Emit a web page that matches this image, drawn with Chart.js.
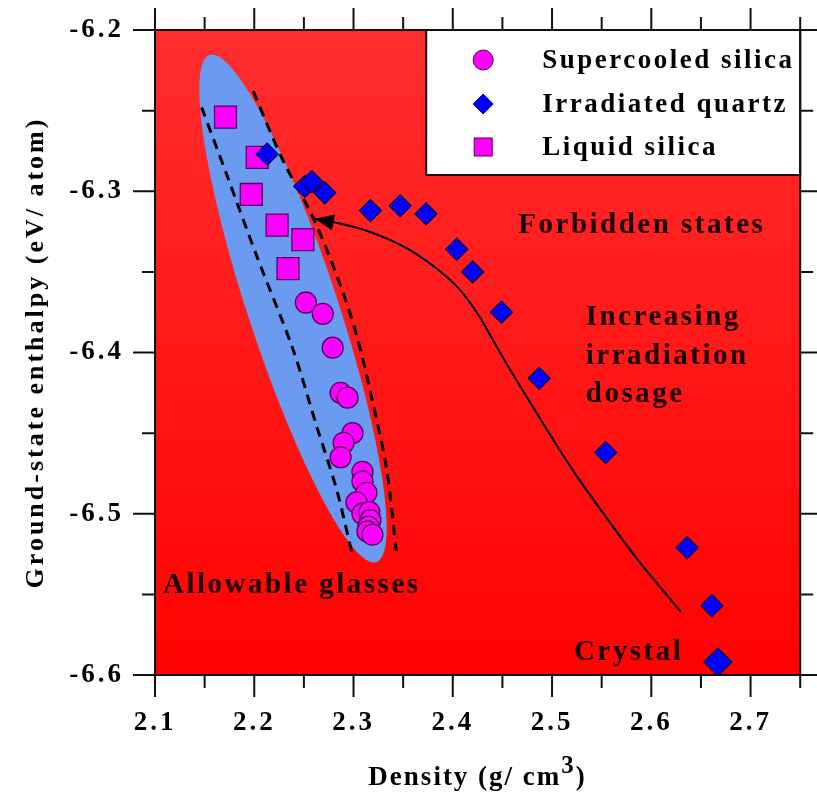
<!DOCTYPE html>
<html>
<head>
<meta charset="utf-8">
<script src="https://cdn.jsdelivr.net/npm/chart.js@4.4.0/dist/chart.umd.min.js"></script>
<style>
  html, body { margin: 0; padding: 0; background: #fff; }
  #wrap { width: 817px; height: 797px; }
</style>
</head>
<body>
<div id="wrap"><canvas id="silica" width="817" height="797"></canvas></div>
<script>
// ── data (density g/cm3, enthalpy eV/atom) ──────────────────────────────────
var supercooled = [
  [2.252, -6.369], [2.269, -6.376], [2.279, -6.397], [2.287, -6.425], [2.294, -6.428],
  [2.299, -6.450], [2.290, -6.456], [2.287, -6.465], [2.309, -6.474], [2.309, -6.480],
  [2.313, -6.487], [2.303, -6.493], [2.309, -6.500], [2.316, -6.499], [2.317, -6.504],
  [2.315, -6.508], [2.314, -6.511], [2.319, -6.513]
];
var irradiated = [
  [2.213, -6.277], [2.251, -6.297], [2.258, -6.294], [2.271, -6.301], [2.317, -6.312],
  [2.347, -6.309], [2.373, -6.314], [2.404, -6.336], [2.420, -6.350], [2.449, -6.375],
  [2.487, -6.416], [2.554, -6.462], [2.636, -6.521], [2.661, -6.557], [2.667, -6.592]
];
var liquid = [
  [2.171, -6.254], [2.203, -6.279], [2.197, -6.302], [2.223, -6.321], [2.249, -6.330], [2.234, -6.348]
];
// dashed bounds of the allowable-glass band
var dashLeft = [
  [2.147, -6.248], [2.173, -6.291], [2.203, -6.341], [2.239, -6.398], [2.263, -6.446],
  [2.283, -6.485], [2.299, -6.526]
];
var dashRight = [
  [2.199, -6.238], [2.229, -6.281], [2.259, -6.316], [2.286, -6.357], [2.303, -6.389],
  [2.319, -6.430], [2.333, -6.471], [2.343, -6.523]
];
// arrow (tip first)
var dosageArrow = [
  [2.261, -6.317], [2.286, -6.320], [2.311, -6.324], [2.336, -6.330], [2.361, -6.338],
  [2.386, -6.349], [2.407, -6.361], [2.425, -6.376], [2.442, -6.394], [2.459, -6.412],
  [2.477, -6.430], [2.497, -6.450], [2.522, -6.474], [2.552, -6.500], [2.587, -6.529],
  [2.630, -6.561]
];
// ends of the long axis of the blue glass ellipse
var glassEllipse = [[2.155, -6.2155], [2.323, -6.530]];

var xRange = [2.1, 2.75];
var yRange = [-6.6, -6.2];

var notes = [
  { text: "Forbidden states",  x: 2.466, y: -6.326 },
  { text: "Increasing",        x: 2.534, y: -6.383 },
  { text: "irradiation",       x: 2.534, y: -6.407 },
  { text: "dosage",            x: 2.534, y: -6.431 },
  { text: "Allowable glasses", x: 2.108, y: -6.549 },
  { text: "Crystal",           x: 2.522, y: -6.591 }
];

var legendRows = ["Supercooled silica", "Irradiated quartz", "Liquid silica"];

// ── styles ──────────────────────────────────────────────────────────────────
var FONT = '"Liberation Serif", "Times New Roman", serif';
var MAGENTA = "#ff00ff", MAGENTA_EDGE = "#55005a";
var BLUE = "#0000ff", BLUE_EDGE = "#000040";

function toXY(arr) { return arr.map(function(p) { return { x: p[0], y: p[1] }; }); }
function isMajor(v) { return Math.abs(v * 10 - Math.round(v * 10)) < 1e-6; }
function noPad(s) { s.paddingTop = 0; s.paddingBottom = 0; s.paddingLeft = 0; s.paddingRight = 0; }

// ── plugins ─────────────────────────────────────────────────────────────────
var backdrop = {
  id: "backdrop",
  beforeDraw: function(chart) {
    var ctx = chart.ctx, a = chart.chartArea;
    ctx.letterSpacing = "3px"; // tick labels + axis title
    ctx.save();
    var g = ctx.createLinearGradient(0, a.top, 0, a.bottom);
    g.addColorStop(0, "#ff2e2e");
    g.addColorStop(1, "#ff0202");
    ctx.fillStyle = g;
    ctx.fillRect(a.left, a.top, a.right - a.left, a.bottom - a.top);

    var sx = chart.scales.x, sy = chart.scales.y;
    var x1 = sx.getPixelForValue(glassEllipse[0][0]), y1 = sy.getPixelForValue(glassEllipse[0][1]);
    var x2 = sx.getPixelForValue(glassEllipse[1][0]), y2 = sy.getPixelForValue(glassEllipse[1][1]);
    ctx.beginPath();
    ctx.ellipse((x1 + x2) / 2, (y1 + y2) / 2, Math.hypot(x2 - x1, y2 - y1) / 2, 45,
                Math.atan2(y2 - y1, x2 - x1), 0, Math.PI * 2);
    ctx.fillStyle = "#6b9bf0";
    ctx.fill();
    ctx.restore();
  },
  afterDatasetsDraw: function(chart) {
    var ctx = chart.ctx, a = chart.chartArea;
    var sx = chart.scales.x, sy = chart.scales.y;
    ctx.save();

    // arrow head at the first point of the arrow curve
    var meta = chart.getDatasetMeta(3);
    var p0 = meta.data[0], p1 = meta.data[1];
    var ang = Math.atan2(p0.y - p1.y, p0.x - p1.x);
    ctx.fillStyle = "#000";
    ctx.beginPath();
    ctx.moveTo(p0.x, p0.y);
    ctx.lineTo(p0.x - 19 * Math.cos(ang) + 8 * Math.sin(ang), p0.y - 19 * Math.sin(ang) - 8 * Math.cos(ang));
    ctx.lineTo(p0.x - 19 * Math.cos(ang) - 8 * Math.sin(ang), p0.y - 19 * Math.sin(ang) + 8 * Math.cos(ang));
    ctx.closePath();
    ctx.fill();

    // region notes
    ctx.font = "bold 29px " + FONT;
    ctx.letterSpacing = "2.5px";
    ctx.fillStyle = "#1a0000";
    ctx.textAlign = "left";
    ctx.textBaseline = "alphabetic";
    notes.forEach(function(n) {
      ctx.fillText(n.text, sx.getPixelForValue(n.x), sy.getPixelForValue(n.y));
    });

    // legend box
    var L = a.right - 374, T = a.top, W = 374, H = 145;
    ctx.fillStyle = "#fff";
    ctx.fillRect(L, T, W, H);
    ctx.strokeStyle = "#111";
    ctx.lineWidth = 2;
    ctx.strokeRect(L, T, W, H);
    var rows = [T + 30, T + 74, T + 117], mx = L + 57;
    ctx.lineWidth = 1;
    ctx.beginPath(); ctx.arc(mx, rows[0], 10, 0, Math.PI * 2);
    ctx.fillStyle = MAGENTA; ctx.fill(); ctx.strokeStyle = MAGENTA_EDGE; ctx.stroke();
    ctx.beginPath();
    ctx.moveTo(mx - 10, rows[1]); ctx.lineTo(mx, rows[1] - 10); ctx.lineTo(mx + 10, rows[1]); ctx.lineTo(mx, rows[1] + 10);
    ctx.closePath(); ctx.fillStyle = BLUE; ctx.fill(); ctx.strokeStyle = BLUE_EDGE; ctx.stroke();
    ctx.fillStyle = MAGENTA; ctx.fillRect(mx - 9, rows[2] - 9, 18, 18);
    ctx.strokeStyle = MAGENTA_EDGE; ctx.strokeRect(mx - 9, rows[2] - 9, 18, 18);

    ctx.font = "bold 27px " + FONT;
    ctx.fillStyle = "#000";
    ctx.textBaseline = "middle";
    legendRows.forEach(function(t, i) { ctx.fillText(t, L + 116, rows[i] + 1); });
    ctx.restore();
  },
  afterDraw: function(chart) {
    var ctx = chart.ctx, a = chart.chartArea;
    var sx = chart.scales.x, sy = chart.scales.y;
    ctx.save();
    ctx.strokeStyle = "#111";
    ctx.lineWidth = 2;
    ctx.beginPath();
    sx.ticks.forEach(function(t) {
      var p = sx.getPixelForValue(t.value), len = isMajor(t.value) ? 22 : 13;
      ctx.moveTo(p, a.bottom); ctx.lineTo(p, a.bottom + len);
      ctx.moveTo(p, a.top);    ctx.lineTo(p, a.top - len);
    });
    sy.ticks.forEach(function(t) {
      var p = sy.getPixelForValue(t.value), len = isMajor(t.value) ? 22 : 13;
      ctx.moveTo(a.left, p);  ctx.lineTo(a.left - len, p);
      ctx.moveTo(a.right, p); ctx.lineTo(a.right + len, p);
    });
    ctx.stroke();
    ctx.strokeRect(a.left, a.top, a.right - a.left, a.bottom - a.top);

    // x axis title with superscript
    ctx.fillStyle = "#000";
    ctx.textBaseline = "alphabetic";
    ctx.textAlign = "left";
    ctx.letterSpacing = "2px";
    ctx.font = "bold 27px " + FONT;
    var main = "Density (g/ cm", close = ")";
    var w1 = ctx.measureText(main).width, w3 = ctx.measureText(close).width;
    ctx.font = "bold 25px " + FONT;
    var w2 = ctx.measureText("3").width;
    var x0 = (a.left + a.right) / 2 - (w1 + w2 + w3) / 2, base = 785;
    ctx.font = "bold 27px " + FONT;
    ctx.fillText(main, x0, base);
    ctx.font = "bold 25px " + FONT;
    ctx.fillText("3", x0 + w1, base - 12);
    ctx.font = "bold 27px " + FONT;
    ctx.fillText(close, x0 + w1 + w2, base);
    ctx.restore();
  }
};

// ── chart ───────────────────────────────────────────────────────────────────
new Chart(document.getElementById("silica").getContext("2d"), {
  type: "scatter",
  data: {
    datasets: [
      {
        label: "Irradiated quartz", data: toXY(irradiated),
        pointStyle: "rectRot", backgroundColor: BLUE, borderColor: BLUE_EDGE, borderWidth: 1.2,
        pointRadius: function(c) { return c.dataIndex === irradiated.length - 1 ? 14 : 11; },
        pointHoverRadius: 11
      },
      {
        label: "Supercooled silica", data: toXY(supercooled),
        pointStyle: "circle", pointRadius: 10.5, backgroundColor: MAGENTA,
        borderColor: MAGENTA_EDGE, borderWidth: 1.3
      },
      {
        label: "Liquid silica", data: toXY(liquid),
        pointStyle: "rect", pointRadius: 15.5, backgroundColor: MAGENTA,
        borderColor: MAGENTA_EDGE, borderWidth: 1.3
      },
      {
        label: "arrow", data: toXY(dosageArrow), showLine: true, pointRadius: 0,
        borderColor: "#000", borderWidth: 2, tension: 0.4
      },
      {
        label: "bound-left", data: toXY(dashLeft), showLine: true, pointRadius: 0,
        borderColor: "#000", borderWidth: 3, borderDash: [10, 7], tension: 0.3
      },
      {
        label: "bound-right", data: toXY(dashRight), showLine: true, pointRadius: 0,
        borderColor: "#000", borderWidth: 3, borderDash: [10, 7], tension: 0.3
      }
    ]
  },
  options: {
    responsive: false,
    animation: false,
    layout: { padding: { left: 21, top: 30, right: 15, bottom: 0 } },
    plugins: { legend: { display: false }, tooltip: { enabled: false } },
    scales: {
      x: {
        type: "linear", min: xRange[0], max: xRange[1],
        afterFit: function(s) { s.height = 122; noPad(s); },
        grid: { display: false, drawTicks: false },
        border: { display: false },
        ticks: {
          stepSize: 0.05, padding: 32, color: "#000",
          font: { family: FONT, size: 27, weight: "bold" },
          callback: function(v) { return isMajor(v) ? v.toFixed(1) : ""; }
        }
      },
      y: {
        type: "linear", min: yRange[0], max: yRange[1],
        afterFit: function(s) { s.width = 134; noPad(s); },
        grid: { display: false, drawTicks: false },
        border: { display: false },
        ticks: {
          stepSize: 0.05, padding: 31, color: "#000",
          font: { family: FONT, size: 27, weight: "bold" },
          callback: function(v) { return isMajor(v) ? v.toFixed(1) : ""; }
        },
        title: {
          display: true, text: "Ground-state enthalpy (eV/ atom)", color: "#000",
          padding: 0, font: { family: FONT, size: 26, weight: "bold" }
        }
      }
    }
  },
  plugins: [backdrop]
});
</script>
</body>
</html>
